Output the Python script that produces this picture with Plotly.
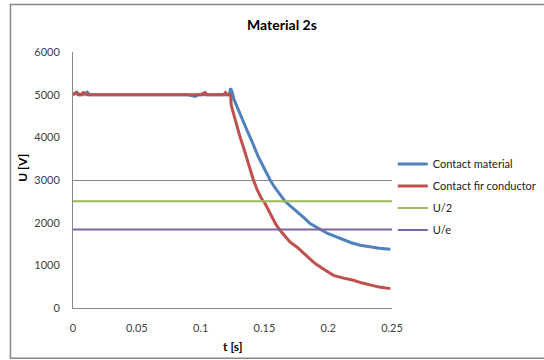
import plotly.graph_objects as go

# ---- data ----
t_blue = [0, 0.003, 0.005, 0.008, 0.011, 0.013, 0.016, 0.03, 0.05, 0.07, 0.09, 0.096, 0.098, 0.11, 0.1225,
          0.1235, 0.1245, 0.126, 0.128, 0.131, 0.134, 0.137, 0.140, 0.142, 0.145, 0.148, 0.151,
          0.1545, 0.158, 0.162, 0.1662, 0.170, 0.174, 0.178, 0.182, 0.1858, 0.190, 0.195,
          0.200, 0.205, 0.212, 0.218, 0.2251, 0.232, 0.240, 0.2487]
u_blue = [5000, 5060, 5000, 5000, 5060, 5000, 5000, 5000, 5000, 5000, 5000, 4960, 5000, 5000, 5000,
          5150, 5080, 4900, 4750, 4560, 4330, 4120, 3920, 3773, 3560, 3380, 3200,
          3000, 2830, 2680, 2500, 2400, 2300, 2212, 2090, 1978, 1900, 1821,
          1740, 1680, 1587, 1530, 1470, 1430, 1400, 1376]

t_red = [0, 0.002, 0.004, 0.006, 0.008, 0.011, 0.02, 0.04, 0.06, 0.08, 0.1, 0.1035, 0.105, 0.118, 0.1195,
         0.121, 0.1235, 0.1240, 0.1257, 0.128, 0.131, 0.1335, 0.136, 0.1385, 0.1414, 0.1445,
         0.148, 0.150, 0.153, 0.156, 0.159, 0.1623, 0.166, 0.170, 0.1754, 0.180, 0.185,
         0.1898, 0.195, 0.2041, 0.212, 0.2198, 0.226, 0.233, 0.240, 0.2487]
u_red = [5000, 5040, 5000, 5000, 5050, 5000, 5000, 5000, 5000, 5000, 5000, 5050, 5000, 5000, 5050,
         5000, 5000, 4750, 4556, 4300, 4000, 3773, 3530, 3270, 3000, 2760,
         2550, 2480, 2300, 2130, 1960, 1821, 1680, 1550, 1430, 1300, 1170,
         1040, 940, 766, 700, 649, 590, 532, 490, 454]

t_ref = [0, 0.25]
u_half = [2500, 2500]
u_e = [1840, 1840]

names = ["Contact material", "Contact fir conductor", "U/2", "U/e"]
colors = ["#4F81BD", "#C0504D", "#9BBB59", "#8064A2"]

fig = go.Figure()
fig.add_trace(go.Scatter(x=t_blue, y=u_blue, mode="lines", name=names[0],
                         line=dict(color=colors[0], width=3), legendgroup="a"))
fig.add_trace(go.Scatter(x=t_red, y=u_red, mode="lines", name=names[1],
                         line=dict(color=colors[1], width=3), legendgroup="b"))
fig.add_trace(go.Scatter(x=t_ref, y=u_half, mode="lines", name=names[2],
                         line=dict(color=colors[2], width=2), legendgroup="c"))
fig.add_trace(go.Scatter(x=t_ref, y=u_e, mode="lines", name=names[3],
                         line=dict(color=colors[3], width=2), legendgroup="d"))
# invisible trace for the sparse gridline axis
fig.add_trace(go.Scatter(x=[0], y=[0], yaxis="y2", mode="markers",
                         marker=dict(opacity=0), showlegend=False, hoverinfo="skip"))

tickfont = dict(family="Lato", size=11, color="#404040")

fig.update_layout(
    width=544, height=360,
    margin=dict(l=73, r=152, t=52, b=52, autoexpand=False),
    paper_bgcolor="white", plot_bgcolor="white",
    showlegend=True,
    title=dict(text="<b>Material 2s</b>", font=dict(family="Lato", size=14, color="black"),
               xref="paper", x=0.655, xanchor="center", yref="container", y=0.93, yanchor="middle"),
    xaxis=dict(range=[0, 0.25], tickvals=[0, 0.05, 0.1, 0.15, 0.2, 0.25],
               ticktext=["0", "0.05", "0.1", "0.15", "0.2", "0.25"],
               showgrid=False, zeroline=False, showline=True, linecolor="#888888", linewidth=1,
               ticks="", ticklabelstandoff=10, tickfont=tickfont, fixedrange=True),
    yaxis=dict(range=[0, 6000], tickvals=[0, 1000, 2000, 3000, 4000, 5000, 6000],
               showgrid=False, zeroline=False, showline=True, linecolor="#888888", linewidth=1,
               ticks="", ticklabelstandoff=10, tickfont=tickfont, fixedrange=True),
    yaxis2=dict(range=[0, 6000], overlaying="y", tickvals=[3000, 6000], showticklabels=False,
                showgrid=True, gridcolor="#888888", gridwidth=1, zeroline=False, showline=False,
                ticks=""),
    legend=dict(xref="container", yref="container", x=0.722, y=0.453,
                xanchor="left", yanchor="middle",
                font=dict(family="Lato", size=11, color="#222222"),
                tracegroupgap=3, traceorder="grouped", bgcolor="rgba(0,0,0,0)"),
    annotations=[
        dict(text="<b>t [s]</b>", xref="paper", yref="paper", x=0.5, y=-0.15,
             xanchor="center", yanchor="middle", showarrow=False,
             font=dict(family="Lato", size=12, color="black")),
        dict(text="<b>U [V]</b>", xref="paper", yref="paper", x=-0.158, y=0.546,
             xanchor="center", yanchor="middle", showarrow=False, textangle=-90,
             font=dict(family="Lato", size=12, color="black")),
    ],
    shapes=[
        dict(type="rect", xref="paper", yref="paper", x0=-0.196, y0=-0.196, x1=1.49, y1=1.186,
             line=dict(color="#888888", width=1.5), fillcolor="rgba(0,0,0,0)", layer="below"),
    ],
)

fig.write_html("out.html")
